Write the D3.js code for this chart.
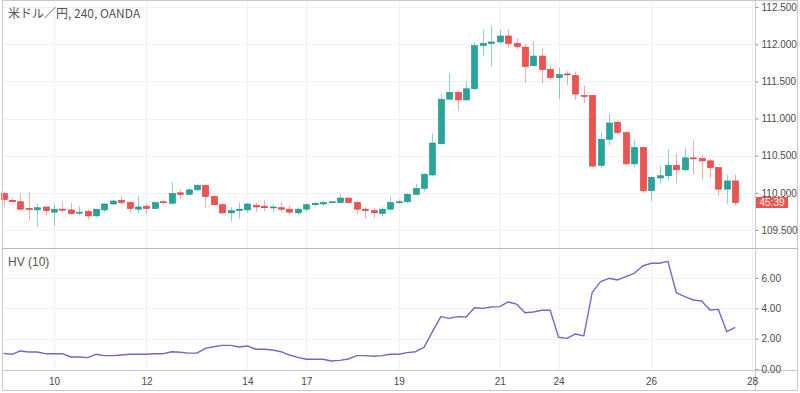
<!DOCTYPE html>
<html>
<head>
<meta charset="utf-8">
<script src="https://cdn.jsdelivr.net/npm/d3@7"></script>
<style>
  html, body { margin: 0; padding: 0; background: #fff; }
  svg { display: block; }
</style>
</head>
<body>
<svg></svg>
<script>
'use strict';
// 4H candles, USD/JPY (OANDA)
var opens = [109.99, 109.90, 109.88, 109.79, 109.77, 109.81, 109.74, 109.78, 109.77, 109.73,
  109.75, 109.69, 109.77, 109.85, 109.90, 109.87, 109.78, 109.82, 109.79, 109.88,
  109.86, 110.00, 109.98, 110.04, 110.10, 109.95, 109.84, 109.73, 109.76, 109.77,
  109.83, 109.82, 109.80, 109.80, 109.78, 109.73, 109.78, 109.84, 109.85, 109.87,
  109.87, 109.93, 109.87, 109.78, 109.76, 109.72, 109.78, 109.87, 109.88, 109.98,
  110.06, 110.24, 110.66, 111.26, 111.35, 111.25, 111.40, 111.98, 112.01, 112.03,
  112.11, 112.01, 111.96, 111.71, 111.84, 111.66, 111.55, 111.60, 111.58, 111.31,
  111.31, 110.37, 110.72, 110.95, 110.81, 110.39, 110.61, 110.03, 110.20, 110.23,
  110.37, 110.31, 110.47, 110.46, 110.43, 110.34, 110.05, 110.16];
var highs = [110.02, 109.94, 109.99, 110.01, 109.85, 109.81, 109.85, 109.88, 109.86, 109.82,
  109.78, 109.78, 109.86, 109.91, 109.96, 109.89, 109.96, 109.85, 109.87, 109.90,
  110.14, 110.05, 110.06, 110.12, 110.11, 109.98, 109.86, 109.81, 109.87, 109.86,
  109.87, 109.90, 109.85, 109.88, 109.83, 109.80, 109.86, 109.87, 109.89, 109.89,
  109.98, 109.93, 109.89, 109.80, 109.79, 109.81, 109.95, 109.91, 110.00, 110.12,
  110.26, 110.80, 111.33, 111.61, 111.37, 111.50, 112.03, 112.20, 112.24, 112.19,
  112.20, 112.08, 112.00, 112.04, 111.94, 111.72, 111.68, 111.64, 111.63, 111.44,
  111.32, 110.82, 111.06, 110.97, 110.83, 110.72, 110.62, 110.22, 110.37, 110.59,
  110.53, 110.61, 110.71, 110.51, 110.46, 110.35, 110.24, 110.25];
var lows = [109.81, 109.87, 109.77, 109.63, 109.54, 109.70, 109.56, 109.74, 109.71, 109.70,
  109.64, 109.67, 109.74, 109.84, 109.84, 109.74, 109.72, 109.72, 109.78, 109.85,
  109.85, 109.92, 109.97, 110.03, 109.80, 109.83, 109.72, 109.61, 109.65, 109.73,
  109.74, 109.75, 109.74, 109.74, 109.71, 109.70, 109.75, 109.81, 109.82, 109.86,
  109.86, 109.86, 109.71, 109.66, 109.66, 109.68, 109.77, 109.85, 109.86, 109.97,
  110.02, 110.22, 110.65, 111.25, 111.11, 111.24, 111.38, 111.84, 111.70, 112.00,
  111.96, 111.93, 111.49, 111.70, 111.47, 111.52, 111.26, 111.45, 111.25, 111.21,
  110.35, 110.33, 110.64, 110.79, 110.37, 110.35, 110.00, 109.89, 110.13, 110.17,
  110.13, 110.29, 110.25, 110.18, 110.20, 109.96, 109.85, 109.83];
var closes = [109.91, 109.88, 109.78, 109.78, 109.80, 109.76, 109.78, 109.77, 109.72, 109.74,
  109.69, 109.78, 109.85, 109.89, 109.87, 109.79, 109.81, 109.79, 109.87, 109.87,
  109.99, 109.98, 110.04, 110.10, 109.95, 109.84, 109.73, 109.76, 109.78, 109.85,
  109.81, 109.80, 109.81, 109.78, 109.74, 109.78, 109.84, 109.86, 109.87, 109.88,
  109.93, 109.87, 109.78, 109.76, 109.73, 109.78, 109.87, 109.88, 109.98, 110.06,
  110.25, 110.67, 111.26, 111.35, 111.25, 111.40, 111.98, 112.01, 112.03, 112.11,
  112.01, 111.97, 111.70, 111.84, 111.66, 111.55, 111.59, 111.59, 111.33, 111.30,
  110.36, 110.72, 110.94, 110.81, 110.39, 110.61, 110.03, 110.21, 110.23, 110.37,
  110.31, 110.47, 110.46, 110.43, 110.34, 110.05, 110.16, 109.87];
// HV (10)
var hvValues = [1.03, 0.97, 1.19, 1.12, 1.12, 1.01, 1.01, 1.01, 0.79, 0.79,
  0.75, 0.97, 0.88, 0.88, 0.92, 0.97, 0.97, 0.97, 1.01, 1.01,
  1.14, 1.10, 1.05, 1.05, 1.36, 1.47, 1.56, 1.56, 1.45, 1.52,
  1.30, 1.30, 1.25, 1.14, 0.92, 0.77, 0.64, 0.64, 0.64, 0.53,
  0.57, 0.66, 0.88, 0.88, 0.84, 0.88, 0.97, 0.97, 1.08, 1.14,
  1.43, 2.46, 3.45, 3.34, 3.45, 3.43, 4.04, 4.00, 4.09, 4.11,
  4.42, 4.28, 3.71, 3.76, 3.87, 3.87, 2.09, 2.02, 2.31, 2.18,
  5.05, 5.76, 5.98, 5.87, 6.09, 6.31, 6.79, 6.97, 6.97, 7.10,
  5.03, 4.77, 4.55, 4.48, 3.89, 3.93, 2.46, 2.75];
// day labels and the bar they sit on
var dayLabels = ['10', '12', '14', '17', '19', '21', '24', '26', '28'];
var dayBars = [6, 17, 29, 36, 47, 59, 66, 77, 89];
var priceTicks = [109.5, 110, 110.5, 111, 111.5, 112, 112.5];
var hvTicks = [0, 2, 4, 6];
var title = '米ドル／円, 240, OANDA';
var hvTitle = 'HV (10)';
var countdown = '45:39';

var canvasWidth = 800;
var canvasHeight = 393;
var axisX = 755.5;
var sepY = 248.5;
var timeAxisY = 370.5;
var upColor = '#26a69a';
var downColor = '#ef5350';
var gridColor = '#eef1f6';
var lineColor = '#c9c9c9';
var textColor = '#4a4a4a';
var font = '"Liberation Sans", Arial, sans-serif';

var svg = d3.select('svg')
  .attr('width', canvasWidth)
  .attr('height', canvasHeight)
  .style('font-family', font);

var bars = d3.range(opens.length).map(function(i) {
  return { i: i, o: opens[i], h: highs[i], l: lows[i], c: closes[i], hv: hvValues[i] };
});

var xScale = d3.scaleLinear().domain([0, 87]).range([3.5, 735.2]);
var yPrice = d3.scaleLinear().domain([109.5, 112.5]).range([230, 7]);
var yHv = d3.scaleLinear().domain([0, 6]).range([369, 278]);

// grid
var grid = svg.append('g');
grid.selectAll('.vgrid').data(dayBars)
  .enter().append('line')
  .attr('x1', function(d) { return Math.round(xScale(d)) + 0.5; })
  .attr('x2', function(d) { return Math.round(xScale(d)) + 0.5; })
  .attr('y1', 0).attr('y2', timeAxisY)
  .attr('stroke', gridColor);
grid.selectAll('.pgrid').data(priceTicks)
  .enter().append('line')
  .attr('x1', 2).attr('x2', axisX)
  .attr('y1', function(d) { return Math.round(yPrice(d)) + 0.5; })
  .attr('y2', function(d) { return Math.round(yPrice(d)) + 0.5; })
  .attr('stroke', gridColor);
grid.selectAll('.hgrid').data(hvTicks.slice(1))
  .enter().append('line')
  .attr('x1', 2).attr('x2', axisX)
  .attr('y1', function(d) { return Math.round(yHv(d)) + 0.5; })
  .attr('y2', function(d) { return Math.round(yHv(d)) + 0.5; })
  .attr('stroke', gridColor);

// candles
var candles = svg.append('g').selectAll('g').data(bars)
  .enter().append('g');
var cColor = function(d) { return d.c >= d.o ? upColor : downColor; };
candles.append('line')
  .attr('x1', function(d) { return Math.round(xScale(d.i)) + 0.5; })
  .attr('x2', function(d) { return Math.round(xScale(d.i)) + 0.5; })
  .attr('y1', function(d) { return yPrice(d.h); })
  .attr('y2', function(d) { return yPrice(d.l); })
  .attr('stroke', cColor)
  .attr('stroke-opacity', 0.5);
candles.append('rect')
  .attr('x', function(d) { return Math.round(xScale(d.i)) - 2.5; })
  .attr('width', 6)
  .attr('y', function(d) { return yPrice(Math.max(d.o, d.c)); })
  .attr('height', function(d) { return Math.max(1, Math.abs(yPrice(d.o) - yPrice(d.c))); })
  .attr('fill', cColor)
  .attr('stroke', function(d) { return d.c >= d.o ? '#1e9186' : '#e0393a'; })
  .attr('stroke-width', 0.6);

// HV line
svg.append('path')
  .datum(bars)
  .attr('fill', 'none')
  .attr('stroke', '#7e62c8')
  .attr('stroke-width', 1.4)
  .attr('stroke-linejoin', 'round')
  .attr('d', d3.line()
    .x(function(d) { return xScale(d.i); })
    .y(function(d) { return yHv(d.hv); }));

// frame and separators
svg.append('rect')
  .attr('x', 2.5).attr('y', 0.5)
  .attr('width', 795).attr('height', 390)
  .attr('fill', 'none').attr('stroke', lineColor);
svg.append('line')
  .attr('x1', 2.5).attr('x2', 797.5).attr('y1', sepY).attr('y2', sepY)
  .attr('stroke', '#b8b8b8');
svg.append('line')
  .attr('x1', 2.5).attr('x2', 797.5).attr('y1', timeAxisY).attr('y2', timeAxisY)
  .attr('stroke', lineColor);
svg.append('line')
  .attr('x1', axisX).attr('x2', axisX).attr('y1', 0).attr('y2', 390.5)
  .attr('stroke', lineColor);

// axes
var priceAxis = svg.append('g')
  .attr('transform', 'translate(' + axisX + ',0)')
  .call(d3.axisRight(yPrice).tickValues(priceTicks)
    .tickFormat(d3.format('.3f')).tickSize(3).tickPadding(3));
var hvAxis = svg.append('g')
  .attr('transform', 'translate(' + axisX + ',0)')
  .call(d3.axisRight(yHv).tickValues(hvTicks)
    .tickFormat(d3.format('.2f')).tickSize(3).tickPadding(3));
var timeAxis = svg.append('g')
  .attr('transform', 'translate(0,' + timeAxisY + ')')
  .call(d3.axisBottom(xScale).tickValues(dayBars)
    .tickFormat(function(d, i) { return dayLabels[i]; }).tickSize(0).tickPadding(7));
[priceAxis, hvAxis, timeAxis].forEach(function(ax) {
  ax.select('.domain').remove();
  ax.selectAll('line').attr('stroke', '#9a9a9a');
  ax.selectAll('text')
    .attr('fill', textColor)
    .style('font-size', '10px')
    .style('font-family', font);
});

// last price label
var lastY = yPrice(closes[closes.length - 1]);
svg.append('rect')
  .attr('x', axisX + 0.5).attr('y', lastY - 5.5)
  .attr('width', 32).attr('height', 11)
  .attr('fill', downColor);
svg.append('text')
  .attr('x', axisX + 16.5).attr('y', lastY + 3.5)
  .attr('text-anchor', 'middle')
  .attr('fill', '#fff')
  .style('font-size', '10px')
  .text(countdown);

// titles
svg.append('text')
  .attr('x', 8).attr('y', 18)
  .attr('fill', '#555')
  .style('font-family', '"Noto Sans CJK JP", sans-serif')
  .style('font-size', '12px')
  .text(title);
svg.append('text')
  .attr('x', 8).attr('y', 266)
  .attr('fill', '#555')
  .style('font-size', '12px')
  .text(hvTitle);
</script>
</body>
</html>
